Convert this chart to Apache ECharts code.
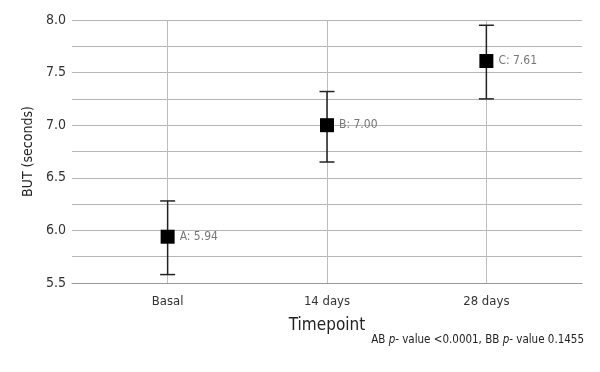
<!DOCTYPE html>
<html>
<head>
<meta charset="utf-8">
<script src="https://cdn.jsdelivr.net/npm/echarts@6/dist/echarts.min.js"></script>
<style>html,body{margin:0;padding:0;background:#fff}#c{width:600px;height:372px}</style>
</head>
<body>
<div id="c"></div>
<script>
const categories = ['Basal', '14 days', '28 days'];
const groupLetters = ['A', 'B', 'C'];
const means = [5.94, 7.00, 7.61];
const lowerCI = [5.58, 6.65, 7.25];
const upperCI = [6.28, 7.32, 7.95];
const yTicks = [5.5, 6.0, 6.5, 7.0, 7.5, 8.0];
const FONT = '"DejaVu Sans Condensed", "Liberation Sans Narrow", sans-serif';

const chart = echarts.init(document.getElementById('c'));
const pts = means.map((m, i) => [i + 1, m]);
const bars = means.map((m, i) => [i + 1, lowerCI[i], upperCI[i]]);

chart.setOption({
  animation: false,
  backgroundColor: '#fff',
  grid: { left: 72, right: 18, top: 20, bottom: 89 },
  xAxis: {
    type: 'value', min: 0.4, max: 3.6, interval: 0.2,
    name: 'Timepoint', nameLocation: 'middle', nameGap: 34,
    nameTextStyle: { fontFamily: FONT, fontSize: 17, color: '#222' },
    axisLine: { show: true, lineStyle: { color: '#999', width: 1 } },
    axisTick: { show: false },
    splitLine: { show: false },
    axisLabel: {
      fontFamily: FONT, fontSize: 13, color: '#333', margin: 12,
      showMinLabel: false, showMaxLabel: false,
      formatter: v => {
        const r = Math.round(v);
        return Math.abs(v - r) < 1e-6 && r >= 1 && r <= categories.length ? categories[r - 1] : '';
      }
    }
  },
  yAxis: {
    type: 'value', min: 5.5, max: 8.0, interval: 0.25,
    name: 'BUT (seconds)', nameLocation: 'middle', nameGap: 35,
    nameTextStyle: { fontFamily: FONT, fontSize: 14, color: '#222' },
    axisLine: { show: false },
    axisTick: { show: false },
    splitLine: { show: true, lineStyle: { color: '#b5b5b5', width: 1 } },
    axisLabel: {
      fontFamily: FONT, fontSize: 14, color: '#333', margin: 6,
      formatter: v => yTicks.some(t => Math.abs(t - v) < 1e-6) ? v.toFixed(1) : ''
    }
  },
  series: [
    {
      type: 'custom',
      silent: true,
      z: 3,
      data: bars,
      renderItem: (params, api) => {
        const x = api.value(0);
        const lo = api.coord([x, api.value(1)]);
        const hi = api.coord([x, api.value(2)]);
        const cap = 7.5;
        const style = { stroke: '#222', lineWidth: 1.5, fill: null };
        return {
          type: 'group',
          children: [
            { type: 'line', shape: { x1: hi[0], y1: hi[1], x2: lo[0], y2: lo[1] }, style },
            { type: 'line', shape: { x1: hi[0] - cap, y1: hi[1], x2: hi[0] + cap, y2: hi[1] }, style },
            { type: 'line', shape: { x1: lo[0] - cap, y1: lo[1], x2: lo[0] + cap, y2: lo[1] }, style }
          ]
        };
      }
    },
    {
      type: 'scatter',
      z: 4,
      data: pts,
      symbol: 'rect',
      symbolSize: 14,
      itemStyle: { color: '#000', opacity: 1 },
      label: {
        show: true, position: 'right', distance: 5,
        fontFamily: FONT, fontSize: 12, color: '#777',
        formatter: p => groupLetters[p.dataIndex] + ': ' + means[p.dataIndex].toFixed(2)
      },
      markLine: {
        silent: true, symbol: 'none', z: 1,
        label: { show: false },
        lineStyle: { color: '#bdbdbd', type: 'solid', width: 1 },
        data: categories.map((c, i) => ({ xAxis: i + 1 }))
      }
    }
  ],
  graphic: [{
    type: 'text', right: 16, top: 334,
    style: {
      text: '{n|AB }{i|p}{n|- value <0.0001, BB }{i|p}{n|- value 0.1455}',
      rich: {
        n: { fontFamily: FONT, fontSize: 11.5, fill: '#222' },
        i: { fontFamily: FONT, fontSize: 11.5, fontStyle: 'italic', fill: '#222' }
      }
    }
  }]
});
</script>
</body>
</html>
